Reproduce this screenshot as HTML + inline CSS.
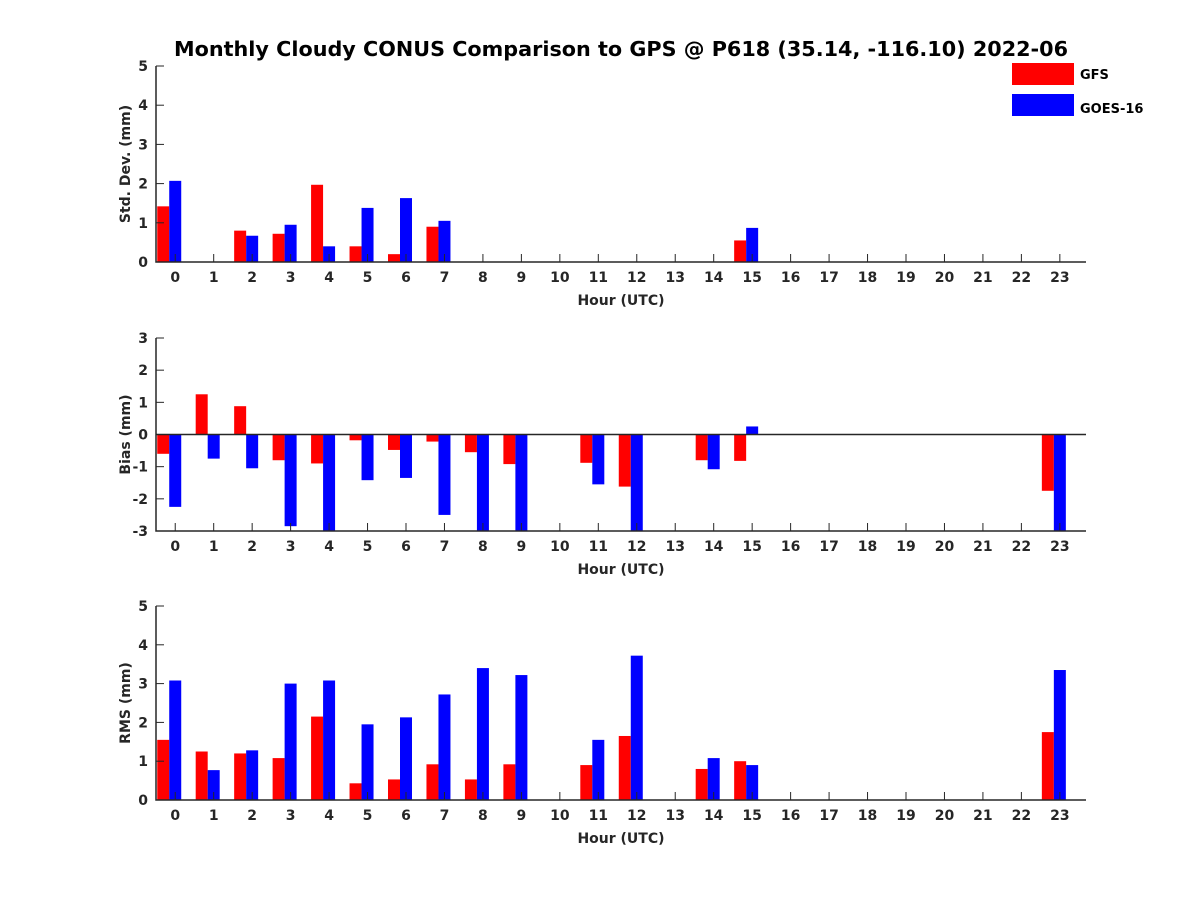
<!DOCTYPE html>
<html><head><meta charset="utf-8"><style>
body{margin:0;background:#fff}
svg text{font-family:"DejaVu Sans","Liberation Sans",sans-serif;font-weight:bold;fill:#262626}
</style></head><body>
<svg id="chart" width="1200" height="900" xmlns="http://www.w3.org/2000/svg">
<rect width="1200" height="900" fill="#fff"/>
<text x="621" y="56" text-anchor="middle" font-size="20" textLength="894" lengthAdjust="spacingAndGlyphs" style="fill:#000">Monthly Cloudy CONUS Comparison to GPS @ P618 (35.14, -116.10) 2022-06</text>
<g>
<rect x="1012" y="63" width="62" height="22" fill="#ff0000"/>
<text x="1080" y="79" font-size="13" style="fill:#000">GFS</text>
<rect x="1012" y="94" width="62" height="22" fill="#0000ff"/>
<text x="1080" y="113" font-size="13" style="fill:#000">GOES-16</text>
</g>
<g id="plots"></g>
</svg>
<script>
const hours = [0,1,2,3,4,5,6,7,8,9,10,11,12,13,14,15,16,17,18,19,20,21,22,23];
const stdGFS  = [1.42,null,0.8,0.72,1.97,0.4,0.2,0.9,null,null,null,null,null,null,null,0.55,null,null,null,null,null,null,null,null];
const stdGOES = [2.07,null,0.67,0.95,0.4,1.38,1.63,1.05,null,null,null,null,null,null,null,0.87,null,null,null,null,null,null,null,null];
const biasGFS  = [-0.6,1.25,0.88,-0.8,-0.9,-0.18,-0.48,-0.22,-0.55,-0.92,null,-0.88,-1.62,null,-0.8,-0.82,null,null,null,null,null,null,null,-1.75];
const biasGOES = [-2.25,-0.75,-1.05,-2.85,-3.1,-1.42,-1.35,-2.5,-3.3,-3.2,null,-1.55,-3.7,null,-1.08,0.25,null,null,null,null,null,null,null,-3.35];
const rmsGFS  = [1.55,1.25,1.2,1.08,2.15,0.43,0.53,0.92,0.53,0.92,null,0.9,1.65,null,0.8,1.0,null,null,null,null,null,null,null,1.75];
const rmsGOES = [3.08,0.77,1.28,3.0,3.08,1.95,2.13,2.72,3.4,3.22,null,1.55,3.72,null,1.08,0.9,null,null,null,null,null,null,null,3.35];
const stdTicks = [0,1,2,3,4,5];
const biasTicks = [-3,-2,-1,0,1,2,3];
const rmsTicks = [0,1,2,3,4,5];

const NS="http://www.w3.org/2000/svg";
const g=document.getElementById('plots');
const X0=156,X1=1086,XMIN=-0.5,XMAX=23.68;
const xs=v=>X0+(v-XMIN)/(XMAX-XMIN)*(X1-X0);
function mk(t,a,txt){const e=document.createElementNS(NS,t);for(const k in a)e.setAttribute(k,a[k]);if(txt!==undefined)e.textContent=txt;g.appendChild(e);return e;}
function panel(name,top,bot,ymin,ymax,ticks,gfs,goes,ylabel,zero){
  const ys=v=>bot-(v-ymin)/(ymax-ymin)*(bot-top);
  hours.forEach((h,i)=>{
    [[gfs[i],-18,'#ff0000','gfs'],[goes[i],-6,'#0000ff','goes']].forEach(([v,dx,c,s])=>{
      if(v===null)return;
      const vv=Math.max(ymin,Math.min(ymax,v));
      const y1=ys(vv),y0=ys(zero?0:ymin);
      const r=mk('rect',{x:xs(h)+dx,y:Math.min(y0,y1),width:12,height:Math.abs(y0-y1),fill:c});
      
      
    });
  });
  if(zero){const z=mk('line',{x1:X0,x2:X1,y1:ys(0),y2:ys(0),stroke:'#262626','stroke-width':1.5});
    }
  const ax=mk('path',{d:`M${X0},${top}V${bot}H${X1}`,fill:'none',stroke:'#262626','stroke-width':1.5});
  
  ticks.forEach(t=>{
    mk('line',{x1:X0,x2:X0+8,y1:ys(t),y2:ys(t),stroke:'#262626','stroke-width':1});
    const l=mk('text',{x:X0-8,y:ys(t)+5,'text-anchor':'end','font-size':14},String(t));
    
  });
  hours.forEach(h=>{
    mk('line',{x1:xs(h),x2:xs(h),y1:bot,y2:bot-8,stroke:'#262626','stroke-width':1});
    const l=mk('text',{x:xs(h),y:bot+20,'text-anchor':'middle','font-size':14},String(h));
    
  });
  const xl=mk('text',{x:621,y:bot+43,'text-anchor':'middle','font-size':14},'Hour (UTC)');
  
  const cy=(top+bot)/2;
  const yl=mk('text',{x:130,y:cy,'text-anchor':'middle','font-size':14,transform:`rotate(-90 130 ${cy})`},ylabel);
  
}
panel('std',66,262,0,5,stdTicks,stdGFS,stdGOES,'Std. Dev. (mm)',false);
panel('bias',338,531,-3,3,biasTicks,biasGFS,biasGOES,'Bias (mm)',true);
panel('rms',606,800,0,5,rmsTicks,rmsGFS,rmsGOES,'RMS (mm)',false);
</script>
</body></html>
